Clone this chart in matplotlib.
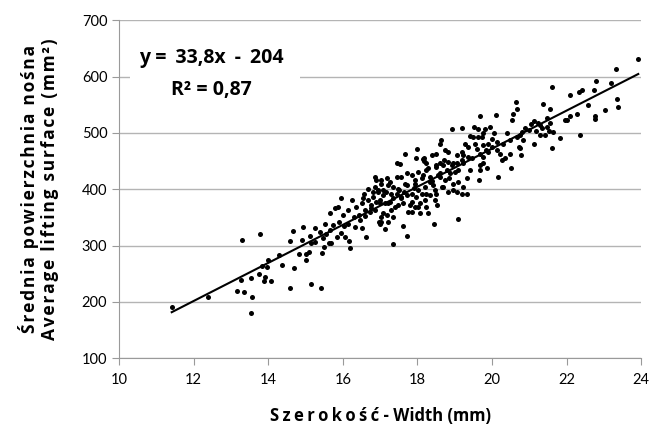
import numpy as np
import matplotlib
matplotlib.use("Agg")
import matplotlib.pyplot as plt
from matplotlib.patches import Rectangle

# width (mm)
width = [11.41, 12.37, 13.30, 13.79, 14.67, 14.59, 14.82, 14.29, 14.00, 14.38,
         13.84, 13.96, 14.70, 13.74, 13.92, 13.53, 13.27, 13.88, 14.06, 13.15,
         13.36, 14.58, 13.57, 13.53,
         15.14, 15.40, 14.91, 14.93, 15.02, 15.00, 15.09, 15.12, 15.15, 15.26,
         15.26, 15.38, 15.43, 15.47, 15.52, 15.50, 15.56, 15.62, 15.65, 15.65,
         15.69, 15.73, 15.78, 15.83, 15.87, 15.90, 15.94, 15.96, 16.00, 16.03,
         16.06, 16.14, 16.14, 16.16, 16.20, 16.25, 16.29, 16.32, 16.36, 16.43,
         16.52, 16.50, 16.56, 16.59, 16.63, 16.67, 16.72, 16.76, 16.81, 16.85,
         16.90, 16.94, 16.97,
         17.35, 17.71, 17.60, 17.12, 17.03, 17.21, 17.17, 17.30, 17.08, 17.75,
         17.84, 18.08, 18.29, 18.44, 18.53, 17.53, 17.44, 18.17, 16.85, 16.85,
         17.03, 17.17, 17.35, 17.57, 17.71, 17.66, 17.84, 17.93, 18.02, 18.11,
         18.20, 18.29, 18.33, 18.42, 18.51, 18.56, 17.44, 17.57, 17.71, 17.84,
         17.97, 18.11, 18.20, 18.33, 18.47, 18.06, 17.84, 17.62, 17.48, 17.26,
         17.12, 16.99, 17.35, 17.93, 18.24,
         19.68, 20.11, 20.56, 20.53, 18.92, 19.20, 19.52, 19.63, 19.81, 19.95,
         19.77, 20.04, 19.99, 19.41, 19.50, 19.63, 19.72, 18.62, 19.27, 19.36,
         19.54, 19.77, 19.90, 20.12, 20.30, 20.48, 20.67, 18.74, 18.83, 18.51,
         18.38, 19.05, 19.19, 19.23, 19.36, 19.68, 19.77, 19.90, 20.12, 20.22,
         20.26, 20.47, 20.71, 18.60, 18.69, 18.83, 18.92, 19.05, 19.19, 19.41,
         19.68, 19.77, 19.86, 19.68, 20.17, 20.51, 19.66, 18.78, 18.87, 18.60,
         18.74, 18.96, 19.09, 19.19, 18.83, 19.05, 18.65, 18.47, 19.09,
         21.60, 22.80, 22.74, 22.41, 22.32, 22.10, 22.56, 21.36, 21.56, 20.63,
         20.66, 22.28, 22.10, 21.96, 22.02, 22.77, 22.77, 21.47, 21.56, 21.04,
         21.13, 21.22, 21.29, 20.89, 20.98, 21.18, 21.34, 21.47, 21.54, 21.63,
         21.29, 21.42, 21.83, 22.35, 20.80, 20.75, 20.83, 21.13, 20.75, 21.60,
         20.78,
         23.92, 23.33, 23.19, 23.35, 23.39, 23.03,
         18.00, 17.66, 17.96, 18.14, 18.24, 17.26, 17.44, 16.67, 17.08,
         17.03, 17.21, 16.94, 17.08, 17.30, 17.48, 17.71, 17.93, 18.02, 17.57,
         16.99, 17.21, 17.39, 17.03, 17.35, 18.02, 16.99, 17.80, 16.90,
         18.60, 18.17, 18.24, 18.51, 18.96, 19.23, 19.09, 18.60, 18.33, 19.32,
         18.69, 18.96, 18.24, 18.51, 19.23, 19.32,
         16.45, 16.60, 16.75, 16.55, 16.80, 17.15, 17.50, 17.90, 18.40, 18.70,
         19.00, 19.45, 19.60, 19.85, 20.00, 20.35, 20.40, 17.65, 18.15, 18.85]

# average lifting surface (mm2)
surface = [191, 208, 310, 320, 325, 308, 285, 283, 275, 266,
           263, 262, 260, 250, 244, 243, 238, 237, 237, 220,
           217, 225, 208, 181,
           231, 225, 309, 333, 275, 285, 288, 317, 304, 331,
           307, 324, 287, 313, 339, 298, 321, 304, 357, 327,
           304, 336, 366, 315, 369, 342, 322, 385, 354, 334,
           315, 363, 339, 308, 295, 380, 351, 333, 369, 354,
           331, 375, 392, 363, 315, 380, 360, 372, 386, 363,
           377, 395, 341,
           302, 317, 335, 330, 341, 342, 354, 363, 357, 360,
           360, 357, 357, 338, 372, 444, 447, 450, 422, 404,
           410, 419, 404, 422, 428, 410, 425, 410, 431, 419,
           404, 437, 422, 407, 443, 425, 392, 386, 389, 392,
           386, 392, 380, 389, 380, 375, 377, 375, 372, 377,
           375, 380, 384, 369, 369,
           530, 531, 533, 523, 507, 509, 511, 507, 507, 511,
           499, 499, 490, 494, 493, 493, 493, 487, 481, 475,
           481, 478, 481, 484, 481, 487, 493, 469, 466, 463,
           460, 460, 466, 460, 457, 463, 457, 466, 469, 463,
           452, 463, 475, 446, 443, 449, 443, 446, 451, 434,
           443, 446, 437, 434, 422, 437, 417, 434, 428, 428,
           416, 410, 413, 392, 395, 395, 404, 398, 347,
           582, 592, 576, 576, 572, 567, 549, 551, 542, 555,
           543, 534, 530, 522, 522, 530, 524, 526, 518, 515,
           521, 518, 514, 508, 505, 504, 508, 511, 504, 502,
           496, 496, 491, 497, 502, 496, 487, 480, 474, 474,
           460,
           632, 614, 588, 560, 546, 541,
           472, 462, 456, 453, 446, 413, 422, 401, 398,
           416, 407, 398, 389, 392, 401, 407, 416, 398, 384,
           375, 375, 369, 351, 351, 369, 339, 372, 416,
           481, 455, 434, 440, 446, 446, 434, 422, 413, 419,
           404, 398, 392, 392, 404, 392,
           345, 352, 366, 384, 395, 395, 398, 402, 415, 452,
           430, 455, 472, 470, 475, 455, 500, 395, 425, 420]

# trend line from the chart
slope = 33.8
intercept = -204
x_ticks = [10, 12, 14, 16, 18, 20, 22, 24]
y_ticks = [100, 200, 300, 400, 500, 600, 700]


def spaced(text):
    # imitate the loose letter spacing of the original labels
    return '\u200a'.join(text)


plt.rcParams['font.family'] = ['Lato', 'DejaVu Sans']
grey = '#9a9a9a'
label_font = ['Open Sans', 'DejaVu Sans']

fig = plt.figure(figsize=(6.51, 4.30), dpi=100)
ax = fig.add_axes([0.183, 0.167, 0.802, 0.786])

ax.scatter(width, surface, s=13, color='black', zorder=3, linewidths=0)
line_x = np.array([min(width), max(width)])
ax.plot(line_x, slope * line_x + intercept, color='black', lw=1.5, zorder=4)

ax.set_xlim(10, 24)
ax.set_ylim(100, 700)
ax.set_xticks(x_ticks)
ax.set_yticks(y_ticks)
ax.grid(axis='y', color='#b4b4b4', lw=1.0, zorder=0)
ax.set_axisbelow(True)
for side in ['top', 'right']:
    ax.spines[side].set_visible(False)
for side in ['left', 'bottom']:
    ax.spines[side].set_color(grey)
ax.tick_params(axis='both', colors=grey, length=5, labelsize=10.5, labelcolor='black')
ax.tick_params(axis='x', pad=6)

ax.set_xlabel('\u2009'.join('Szerokość') + ' - Width (mm)',
              fontsize=12, fontweight='bold', family=label_font, labelpad=14)
ax.set_ylabel(spaced('Średnia powierzchnia nośna') + '\n' +
              spaced('Average lifting surface (mm²)'),
              fontsize=12.5, fontweight='bold', family=label_font, labelpad=16,
              linespacing=1.15)

# regression equation on a white box that hides the gridline
ax.add_patch(Rectangle((0.021, 0.749), 0.326, 0.177, transform=ax.transAxes,
                       facecolor='white', edgecolor='none', zorder=4.5))
ax.text(0.176, 0.888, 'y =\u2009 33,8x \u2009-\u2009 204', transform=ax.transAxes,
        ha='center', va='center', fontsize=14, fontweight='bold', family=label_font,
        zorder=5)
ax.text(0.176, 0.793, 'R² = 0,87', transform=ax.transAxes,
        ha='center', va='center', fontsize=14, fontweight='bold', family=label_font,
        zorder=5)

plt.savefig('out.png', dpi=100)
